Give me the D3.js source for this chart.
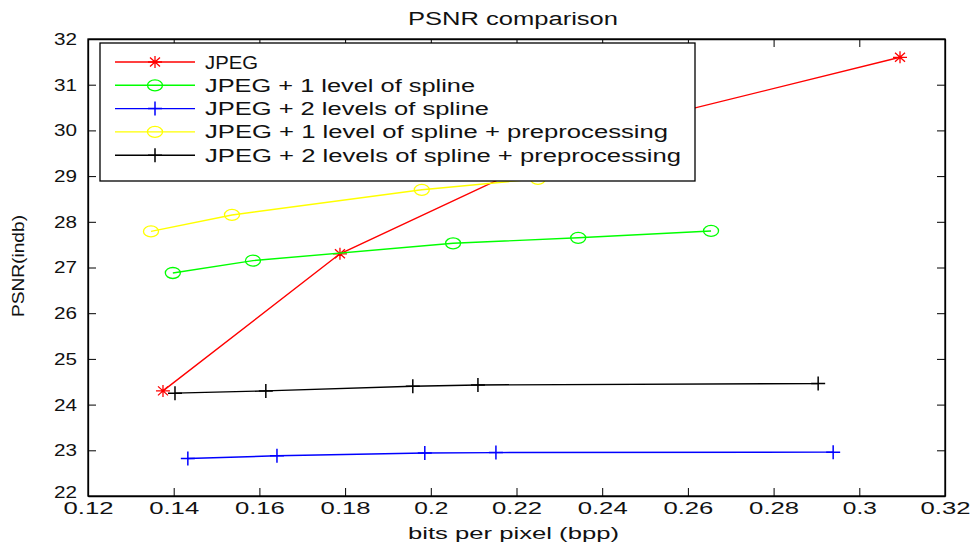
<!DOCTYPE html>
<html>
<head>
<meta charset="utf-8">
<script src="https://cdn.jsdelivr.net/npm/d3@7"></script>
<style>
  body { margin: 0; background: #fff; }
  text { font-family: "Liberation Sans", Arial, sans-serif; }
</style>
</head>
<body>
<svg width="976" height="544"></svg>
<script>
// data
var jpegX = [0.1375, 0.1788, 0.2404, 0.3095];
var jpegY = [24.30, 27.30, 30.00, 31.60];

var spline1X = [0.1398, 0.1585, 0.2052, 0.2344, 0.2654];
var spline1Y = [26.88, 27.15, 27.53, 27.65, 27.80];

var spline2X = [0.1433, 0.1641, 0.1986, 0.2152, 0.2939];
var spline2Y = [22.82, 22.88, 22.94, 22.95, 22.96];

var spline1PreX = [0.1347, 0.1536, 0.1979, 0.2250];
var spline1PreY = [27.79, 28.15, 28.70, 28.94];

var spline2PreX = [0.1403, 0.1615, 0.1958, 0.2110, 0.2904];
var spline2PreY = [24.25, 24.30, 24.40, 24.43, 24.46];

var xTicks = [0.12, 0.14, 0.16, 0.18, 0.2, 0.22, 0.24, 0.26, 0.28, 0.3, 0.32];
var yTicks = [22, 23, 24, 25, 26, 27, 28, 29, 30, 31, 32];

var series = [
  { name: "JPEG", xs: jpegX, ys: jpegY, color: "#ff0000", marker: "star", w: 53 },
  { name: "JPEG + 1 level of spline", xs: spline1X, ys: spline1Y, color: "#00ff00", marker: "circle", w: 270 },
  { name: "JPEG + 2 levels of spline", xs: spline2X, ys: spline2Y, color: "#0000ff", marker: "plus", w: 284 },
  { name: "JPEG + 1 level of spline + preprocessing", xs: spline1PreX, ys: spline1PreY, color: "#ffff00", marker: "circle", w: 463 },
  { name: "JPEG + 2 levels of spline + preprocessing", xs: spline2PreX, ys: spline2PreY, color: "#000000", marker: "plus", w: 476 }
];

var margin = { top: 39, right: 31, bottom: 48, left: 88 };
var width = 976 - margin.left - margin.right;
var height = 544 - margin.top - margin.bottom;

var svg = d3.select("svg");
var g = svg.append("g")
  .attr("transform", "translate(" + margin.left + "," + margin.top + ")");

var x = d3.scaleLinear().domain([0.12, 0.32]).range([0, width]);
var y = d3.scaleLinear().domain([22, 32]).range([height, 0]);

// axes, MATLAB style: inward ticks on all sides
var fmt = function (d) { return String(+d.toFixed(2)); };

g.append("g")
  .attr("class", "xaxis")
  .attr("transform", "translate(0," + height + ")")
  .call(d3.axisBottom(x).tickValues(xTicks).tickSizeInner(-8).tickSizeOuter(0).tickPadding(6).tickFormat(fmt));
g.append("g")
  .call(d3.axisTop(x).tickValues(xTicks).tickSizeInner(-8).tickSizeOuter(0).tickFormat(""));
g.append("g")
  .attr("class", "yaxis")
  .call(d3.axisLeft(y).tickValues(yTicks).tickSizeInner(-8).tickSizeOuter(0).tickPadding(11));
g.append("g")
  .attr("transform", "translate(" + width + ",0)")
  .call(d3.axisRight(y).tickValues(yTicks).tickSizeInner(-8).tickSizeOuter(0).tickFormat(""));

g.selectAll(".domain").attr("stroke", "#000").attr("stroke-width", 1.3);
g.selectAll(".tick line").attr("stroke", "#000").attr("stroke-width", 1);
g.selectAll(".tick text").attr("font-size", 17).attr("fill", "#111")
  .attr("font-family", "'Liberation Sans', Arial, sans-serif");
g.selectAll(".xaxis .tick text")
  .attr("font-size", 16.5)
  .attr("textLength", function (d) { return fmt(d).length > 3 ? 50 : 34; })
  .attr("lengthAdjust", "spacingAndGlyphs");
g.selectAll(".yaxis .tick text")
  .attr("textLength", 23)
  .attr("lengthAdjust", "spacingAndGlyphs")
  .filter(function (d) { return d === 22; })
  .attr("dy", "0.1em");

// box edges
g.append("rect").attr("width", width).attr("height", height)
  .attr("fill", "none").attr("stroke", "#000").attr("stroke-width", 1.3);

function drawMarker(sel, type, color) {
  if (type === "star") {
    sel.append("path")
      .attr("d", "M-7,0H7M0,-6V6M-5,-4.5L5,4.5M-5,4.5L5,-4.5")
      .attr("stroke", color).attr("stroke-width", 1.3).attr("fill", "none");
  } else if (type === "circle") {
    sel.append("ellipse").attr("rx", 7.5).attr("ry", 5.5)
      .attr("stroke", color).attr("stroke-width", 1.3).attr("fill", "none");
  } else {
    sel.append("path")
      .attr("d", "M-7,0H7M0,-7V7")
      .attr("stroke", color).attr("stroke-width", 1.5).attr("fill", "none");
  }
}

var line = d3.line().x(function (d) { return x(d[0]); }).y(function (d) { return y(d[1]); });

series.forEach(function (s) {
  var pts = d3.zip(s.xs, s.ys);
  g.append("path")
    .datum(pts)
    .attr("d", line)
    .attr("fill", "none")
    .attr("stroke", s.color)
    .attr("stroke-width", 1.4);
  g.selectAll(null)
    .data(pts)
    .enter()
    .append("g")
    .attr("transform", function (d) { return "translate(" + x(d[0]) + "," + y(d[1]) + ")"; })
    .each(function () { drawMarker(d3.select(this), s.marker, s.color); });
});

// legend
var legend = g.append("g").attr("transform", "translate(12,4)");
legend.append("rect")
  .attr("width", 595).attr("height", 138)
  .attr("fill", "#fff").attr("stroke", "#000").attr("stroke-width", 1.3);

series.forEach(function (s, i) {
  var row = legend.append("g").attr("transform", "translate(0," + (19 + i * 23.3) + ")");
  row.append("line").attr("x1", 15).attr("x2", 95)
    .attr("stroke", s.color).attr("stroke-width", 1.4);
  var m = row.append("g").attr("transform", "translate(55,0)");
  drawMarker(m, s.marker, s.color);
  row.append("text")
    .attr("x", 105).attr("y", 6.5)
    .attr("font-size", 17.5)
    .attr("textLength", s.w)
    .attr("lengthAdjust", "spacingAndGlyphs")
    .attr("fill", "#111")
    .text(s.name);
});

// title and axis labels
svg.append("text")
  .attr("x", 408).attr("y", 25)
  .attr("font-size", 18).attr("fill", "#111")
  .attr("textLength", 210).attr("lengthAdjust", "spacingAndGlyphs")
  .text("PSNR comparison");

svg.append("text")
  .attr("x", 408).attr("y", 539)
  .attr("font-size", 17).attr("fill", "#111")
  .attr("textLength", 211).attr("lengthAdjust", "spacingAndGlyphs")
  .text("bits per pixel (bpp)");

svg.append("text")
  .attr("transform", "translate(24,317) rotate(-90)")
  .attr("font-size", 16).attr("fill", "#111")
  .attr("textLength", 102).attr("lengthAdjust", "spacingAndGlyphs")
  .text("PSNR(indb)");
</script>
</body>
</html>
